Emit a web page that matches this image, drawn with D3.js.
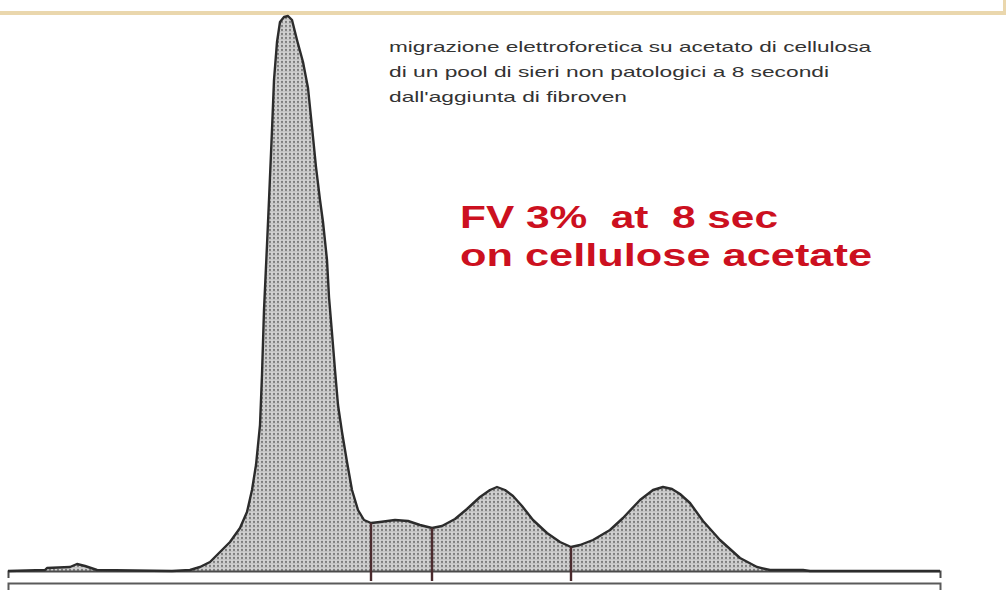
<!DOCTYPE html>
<html>
<head>
<meta charset="utf-8">
<script src="https://cdn.jsdelivr.net/npm/d3@7"></script>
<style>
  html, body { margin: 0; padding: 0; background: #ffffff; }
  svg { display: block; }
</style>
</head>
<body>
<svg id="chart" width="1006" height="598"></svg>
<script>
// Densitometric trace: migration position (arbitrary units) vs. optical density (arbitrary units)
const position = [0,37,39,62,69,77,89,164,182,192,202,212,222,232,239,244,248,252,254,256,259,261,264,266,269,272,276,280,284,289,295,300,304,308,312,315,319,321,324,327,330,334,339,344,350,356,363,372,387,400,412,424,434,447,459,472,482,489,497,505,514,525,539,552,563,572,585,602,615,632,645,655,664,672,682,695,712,732,749,762,795,802,932];
const density  = [0,1,3,4,7,5,1,0,1,4,9,19,29,43,59,81,106,146,196,261,326,371,441,491,529,549,554,555,551,531,509,483,444,404,371,349,311,274,238,201,166,139,109,81,61,51,48,49,51,50,46,43,45,52,62,74,81,84,81,75,65,51,38,29,24,26,31,41,53,71,81,84,82,77,68,50,31,13,4,1,1,0,0];
// Fraction boundaries (valleys) marked on the trace
const dividers = [363, 424, 563];
// Annotation texts
const noteLines = [
  "migrazione elettroforetica su acetato di cellulosa",
  "di un pool di sieri non patologici a 8 secondi",
  "dall'aggiunta di fibroven"
];
const titleLines = ["FV 3%  at  8 sec", "on cellulose acetate"];

const svg = d3.select("#chart");
const x = d3.scaleLinear().domain([0, 932]).range([8, 940]);
const y = d3.scaleLinear().domain([0, 560]).range([571, 11]);

// top decorative beige band
svg.append("rect").attr("x", 0).attr("y", 11).attr("width", 1006).attr("height", 4).attr("fill", "#ead7ad");
svg.append("rect").attr("x", 1003).attr("y", 0).attr("width", 3).attr("height", 13).attr("fill", "#ead7ad");

// stipple pattern
const defs = svg.append("defs");
const pat = defs.append("pattern").attr("id", "stip").attr("patternUnits", "userSpaceOnUse")
  .attr("width", 4).attr("height", 4);
pat.append("rect").attr("width", 4).attr("height", 4).attr("fill", "#d2d2d2");
pat.append("rect").attr("x", 0).attr("y", 3).attr("width", 4).attr("height", 1).attr("fill", "#c4c4c4");
pat.append("circle").attr("cx", 2).attr("cy", 2).attr("r", 1.15).attr("fill", "#7d7d7d");

const pts = position.map((p, i) => [p, density[i]]);

const area = d3.area().x(d => x(d[0])).y0(y(0)).y1(d => y(d[1])).curve(d3.curveLinear);
const line = d3.line().x(d => x(d[0])).y(d => y(d[1])).curve(d3.curveLinear);

svg.append("path").datum(pts).attr("d", area).attr("fill", "url(#stip)");

// baseline axis and lower reference line
const axisG = svg.append("g").attr("transform", `translate(0,${y(0)})`);
axisG.call(d3.axisBottom(x).tickValues([]).tickSizeOuter(7));
axisG.select(".domain").attr("stroke", "#4a4a4a").attr("stroke-width", 2);

const lower = svg.append("g").attr("transform", `translate(0,${y(0) + 12})`);
lower.call(d3.axisBottom(x).tickValues([]).tickSizeOuter(7));
lower.select(".domain").attr("stroke", "#5a5a5a").attr("stroke-width", 2);

svg.append("path").datum(pts).attr("d", line)
  .attr("fill", "none").attr("stroke", "#2c2c2c").attr("stroke-width", 2.4).attr("stroke-linejoin", "round");

// fraction dividers
const interp = p => {
  const i = d3.bisectLeft(position, p);
  if (position[i] === p) return density[i];
  const t = (p - position[i - 1]) / (position[i] - position[i - 1]);
  return density[i - 1] + t * (density[i] - density[i - 1]);
};
svg.selectAll(".div").data(dividers).join("line")
  .attr("class", "div")
  .attr("x1", d => x(d)).attr("x2", d => x(d))
  .attr("y1", d => y(interp(d))).attr("y2", y(-10))
  .attr("stroke", "#4b2b2e").attr("stroke-width", 2.4);

// note text
const noteWidths = [482, 440, 238];
svg.selectAll(".note").data(noteLines).join("text")
  .attr("class", "note")
  .attr("x", 389).attr("y", (d, i) => 52 + i * 25)
  .attr("textLength", (d, i) => noteWidths[i]).attr("lengthAdjust", "spacingAndGlyphs")
  .attr("font-family", "Liberation Sans, Arial, sans-serif").attr("font-size", 15)
  .attr("fill", "#333333").text(d => d);

// red title
const titleWidths = [318, 412];
svg.selectAll(".ttl").data(titleLines).join("text")
  .attr("class", "ttl")
  .attr("x", 460).attr("y", (d, i) => 228 + i * 38)
  .attr("textLength", (d, i) => titleWidths[i]).attr("lengthAdjust", "spacingAndGlyphs")
  .attr("font-family", "Liberation Sans, Arial, sans-serif").attr("font-size", 31).attr("font-weight", "bold")
  .attr("fill", "#cc1020").attr("xml:space", "preserve").style("white-space", "pre").text(d => d);
</script>
</body>
</html>
